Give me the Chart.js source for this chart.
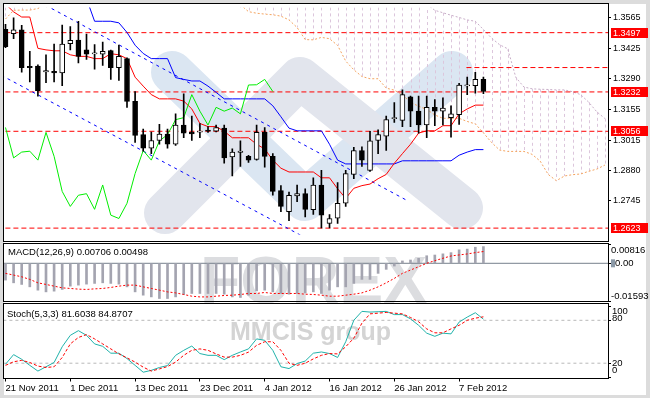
<!DOCTYPE html>
<html>
<head>
<meta charset="utf-8">
<script src="https://cdn.jsdelivr.net/npm/chart.js@4/dist/chart.umd.min.js"></script>
<style>
  html, body { margin: 0; padding: 0; }
  body { width: 650px; height: 398px; background: #dcdcdc; position: relative; overflow: hidden; }
  #sheet { position: absolute; left: 4px; top: 4px; width: 642px; height: 391px; background: #fff; }
  canvas { position: absolute; left: 0; }
</style>
</head>
<body>
<div id="sheet"></div>
<canvas id="price" width="650" height="242" style="top:0"></canvas>
<canvas id="macd" width="650" height="61" style="top:242px"></canvas>
<canvas id="stoch" width="650" height="96" style="top:302px"></canvas>
<script>
// EURUSD daily, 21 Nov 2011 - 10 Feb 2012 (one entry per bar)
const tickBars = [0, 8, 16, 24, 32, 40, 48, 56];
const tickLabels = ['21 Nov 2011', '1 Dec 2011', '13 Dec 2011', '23 Dec 2011', '4 Jan 2012', '16 Jan 2012', '26 Jan 2012', '7 Feb 2012'];

const open = [1.3512,1.3493,1.3510,1.3346,1.3348,1.3322,1.3324,1.3317,1.3448,1.3464,
              1.3420,1.3402,1.3401,1.3417,1.3341,1.3381,1.3190,1.3041,1.2981,1.3015,
              1.3044,1.2998,1.3084,1.3053,1.3052,1.3061,1.3056,1.3070,1.2941,1.2962,
              1.2944,1.2930,1.3051,1.2944,1.2791,1.2696,1.2767,1.2777,1.2706,1.2816,
              1.2644,1.2667,1.2734,1.2863,1.2970,1.2881,1.3015,1.3034,1.3112,1.3105,
              1.3210,1.3146,1.3084,1.3163,1.3146,1.3117,1.3130,1.3259,1.3260,1.3288];
const high = [1.3534,1.3563,1.3530,1.3413,1.3353,1.3398,1.3446,1.3531,1.3524,1.3548,
              1.3491,1.3444,1.3455,1.3419,1.3441,1.3384,1.3234,1.3066,1.3053,1.3087,
              1.3066,1.3134,1.3223,1.3124,1.3091,1.3077,1.3084,1.3084,1.2977,1.3013,
              1.2949,1.3084,1.3073,1.2956,1.2813,1.2784,1.2816,1.2799,1.2848,1.2881,
              1.2684,1.2827,1.2881,1.2984,1.2987,1.3056,1.3063,1.3124,1.3184,1.3241,
              1.3213,1.3213,1.3213,1.3198,1.3206,1.3170,1.3270,1.3298,1.3320,1.3298];
const low = [1.3430,1.3470,1.3320,1.3277,1.3213,1.3273,1.3277,1.3260,1.3420,1.3362,
             1.3377,1.3334,1.3351,1.3288,1.3284,1.3163,1.3006,1.2967,1.2956,1.2998,
             1.2981,1.2993,1.3027,1.3015,1.3027,1.3051,1.3053,1.2913,1.2856,1.2899,
             1.2917,1.2927,1.2896,1.2770,1.2696,1.2656,1.2741,1.2673,1.2684,1.2624,
             1.2624,1.2644,1.2720,1.2844,1.2899,1.2877,1.2956,1.2970,1.3096,1.3077,
             1.3077,1.3048,1.3027,1.3081,1.3084,1.3030,1.3087,1.3220,1.3227,1.3224];
const close = [1.3434,1.3510,1.3341,1.3341,1.3238,1.3327,1.3317,1.3446,1.3463,1.3391,
               1.3401,1.3407,1.3413,1.3341,1.3391,1.3189,1.3037,1.2981,1.3015,1.3044,
               1.2998,1.3084,1.3048,1.3044,1.3057,1.3056,1.3073,1.2937,1.2963,1.2967,
               1.2927,1.3051,1.2944,1.2787,1.2720,1.2770,1.2777,1.2707,1.2816,1.2681,
               1.2666,1.2734,1.2867,1.2970,1.2927,1.3013,1.3041,1.3108,1.3117,1.3220,
               1.3146,1.3084,1.3163,1.3146,1.3160,1.3134,1.3263,1.3264,1.3288,1.3234];

// Ichimoku (null = above the visible range)
const tenkan = [1.3625,1.3590,1.3567,1.3567,1.3427,1.3420,1.3416,1.3416,1.3398,1.3391,
                1.3391,1.3381,1.3381,1.3403,1.3398,1.3381,1.3298,1.3258,1.3220,1.3201,
                1.3201,1.3201,1.3191,1.3156,1.3091,1.3077,1.3077,1.3056,1.3027,1.3027,
                1.3027,1.2998,1.2977,1.2927,1.2891,1.2874,1.2874,1.2874,1.2874,1.2848,
                1.2848,1.2799,1.2756,1.2801,1.2813,1.2820,1.2844,1.2863,1.2913,1.2956,
                1.2998,1.3048,1.3058,1.3058,1.3081,1.3081,1.3134,1.3156,1.3173,1.3173];
const kijun = [null,null,null,null,null,null,null,null,null,null,
               1.3649,1.3548,1.3548,1.3548,1.3541,1.3498,1.3441,1.3404,1.3381,1.3381,
               1.3381,1.3296,1.3288,1.3281,1.3281,1.3258,1.3230,1.3201,1.3201,1.3201,
               1.3201,1.3201,1.3201,1.3170,1.3121,1.3070,1.3058,1.3058,1.3058,1.3058,
               1.2998,1.2927,1.2910,1.2910,1.2910,1.2910,1.2910,1.2910,1.2910,1.2924,
               1.2924,1.2924,1.2924,1.2924,1.2924,1.2924,1.2949,1.2963,1.2974,1.2974];
// senkou spans, already shifted 26 bars forward (index 0..74)
const spanA = [1.3558,1.3597,1.3598,1.3598,1.3605,1.3625,null,null,null,null,
               null,null,null,null,null,null,null,null,null,null,
               null,null,null,null,null,null,null,null,null,1.3622,
               1.3591,1.3584,1.3580,1.3577,1.3571,1.3554,1.3520,1.3466,1.3465,1.3476,
               1.3470,1.3440,1.3370,1.3331,1.3301,1.3291,1.3291,1.3249,1.3240,1.3219,
               1.3186,1.3168,1.3154,1.3129,1.3114,1.3114,1.3114,1.3100,1.3089,1.3049,
               1.3006,1.2972,1.2966,1.2966,1.2966,1.2953,1.2923,1.2863,1.2835,1.2856,
               1.2862,1.2865,1.2877,1.2887,1.2905];
const spanB = [null,null,null,null,null,null,null,null,null,null,
               null,null,null,null,null,null,null,null,null,null,
               null,null,null,null,null,null,null,null,null,null,
               null,null,null,null,null,null,null,null,null,null,
               null,null,null,null,null,null,null,null,null,null,
               null,null,1.3625,1.3597,1.3586,1.3575,1.3565,1.3554,1.3548,1.3511,
               1.3473,1.3443,1.3425,1.3297,1.3254,1.3246,1.3244,1.3243,1.3241,1.3241,
               1.3233,1.3220,1.3186,1.3143,1.3113];

const levels = [1.3497, 1.3232, 1.3056, 1.2623];
const shortLevel = 1.3341;
const shortLevelFrom = 56.9;
const upperTrend = [[5.7, 1.3605], [49.55, 1.2747]];
const lowerTrend = [[-0.5, 1.3306], [36.5, 1.2590]];
const priceTicks = [1.3565, 1.3425, 1.3290, 1.3155, 1.3015, 1.2880, 1.2745];

const macdMain = [-0.00710,-0.00825,-0.00893,-0.00995,-0.01135,-0.01207,-0.01177,-0.01105,-0.00965,-0.00922,
                  -0.00880,-0.00850,-0.00825,-0.00850,-0.00880,-0.00995,-0.01207,-0.01347,-0.01420,-0.01488,
                  -0.01488,-0.01420,-0.01318,-0.01275,-0.01275,-0.01275,-0.01275,-0.01305,-0.01420,-0.01445,
                  -0.01347,-0.01165,-0.01135,-0.01207,-0.01275,-0.01305,-0.01275,-0.01250,-0.01207,-0.01275,
                  -0.01135,-0.00995,-0.00995,-0.00850,-0.00680,-0.00680,-0.00425,-0.00255,-0.00115,0.00100,
                  0.00140,0.00210,0.00320,0.00350,0.00400,0.00450,0.00570,0.00600,0.00680,0.00706];
const macdSignal = [-0.00425,-0.00497,-0.00570,-0.00680,-0.00825,-0.00893,-0.00965,-0.01037,-0.01063,-0.01092,
                    -0.01105,-0.01080,-0.01063,-0.01020,-0.00965,-0.00922,-0.00922,-0.00995,-0.01063,-0.01135,
                    -0.01207,-0.01250,-0.01318,-0.01390,-0.01420,-0.01420,-0.01390,-0.01360,-0.01347,-0.01318,
                    -0.01275,-0.01275,-0.01233,-0.01275,-0.01275,-0.01275,-0.01275,-0.01305,-0.01318,-0.01347,
                    -0.01390,-0.01390,-0.01347,-0.01305,-0.01250,-0.01135,-0.00995,-0.00825,-0.00638,-0.00425,
                    -0.00285,-0.00145,0.00000,0.00111,0.00213,0.00310,0.00353,0.00395,0.00451,0.00498];
const macdTicks = [0.00816, 0, -0.01593];

const stochK = [18.5,32,25.5,17,9,15,21,43,59,65.5,
                59,47,43.6,34,34,26.5,17,7.4,10,14,
                16.7,31,38,44,33.5,31,31,25,31,35.7,
                40,54,52,38,15,12.5,19.5,23,34,35.7,
                33.5,28,50,80,92.5,91.5,92,92.5,88,88,
                82,73,62,57.6,62,61,77.5,84.5,90.6,81.6038];
const stochD = [17,22,24,21,16,14,15,28,47,56,
                60,54,47,40,33,27.5,21.5,14.5,9,12,
                15.3,21.5,31,38,40,38,33,28.5,28.5,31,
                35.5,45,50,50,38,20,17,20,26,31,
                33.5,33,43,55,76,89,90,91,90,89,
                84,78,68,62.5,62.5,68,73,80,83,84.8707];
const stochTicks = [100, 80, 20, 0];
const stochLevels = [80, 20];

const FONT = '"Liberation Sans", Arial, sans-serif';
Chart.defaults.font.family = FONT;
Chart.defaults.font.size = 9.5;
Chart.defaults.color = '#000';
Chart.defaults.animation = false;

const xMin = -0.185, xMax = 74.38;
const pts = (arr, from) => arr.map((v, i) => ({ x: i + (from || 0), y: v }));
const line = (data, color, extra) => Object.assign({
  type: 'line', data, borderColor: color, borderWidth: 1, pointRadius: 0, tension: 0
}, extra || {});

function xAxis(show) {
  return {
    type: 'linear', min: xMin, max: xMax, offset: false, display: show,
    grid: { drawOnChartArea: false, drawTicks: true, tickLength: 4, color: '#000' },
    border: { display: false },
    afterBuildTicks: s => { s.ticks = tickBars.map(v => ({ value: v })); },
    ticks: { align: 'start', maxRotation: 0, autoSkip: false, padding: 1,
             callback: v => tickLabels[tickBars.indexOf(v)] },
    afterFit: s => { if (show) s.height = 20.5; }
  };
}
function yAxis(min, max, ticks, showLabels) {
  return {
    position: 'right', min, max, beginAtZero: false,
    grid: { drawOnChartArea: false, drawTicks: true, tickLength: 3, color: '#000' },
    border: { display: false },
    afterBuildTicks: s => { s.ticks = ticks.map(v => ({ value: v })); },
    ticks: { display: showLabels, padding: 2, font: { size: 9 }, callback: v => v.toFixed(4) },
    afterFit: s => { s.width = 42; }
  };
}
function frame(ctx, area, top, bottom) {
  ctx.save();
  ctx.strokeStyle = '#000'; ctx.lineWidth = 1;
  ctx.strokeRect(area.left - 0.5, top, area.right - area.left + 1, bottom - top);
  ctx.restore();
}
const common = {
  responsive: false, devicePixelRatio: 1, events: [],
  plugins: { legend: { display: false }, tooltip: { enabled: false } }
};

// ---------- price pane ----------
const priceDecor = {
  id: 'priceDecor',
  beforeDatasetsDraw(chart) {
    const { ctx, chartArea: a, scales: { x, y } } = chart;
    ctx.save();
    ctx.beginPath(); ctx.rect(a.left, a.top, a.right - a.left, a.bottom - a.top); ctx.clip();
    // watermark logo
    ctx.lineCap = 'round'; ctx.lineJoin = 'round'; ctx.lineWidth = 42;
    ctx.strokeStyle = '#dbe6f2';
    ctx.beginPath(); ctx.moveTo(172, 72); ctx.lineTo(305, 200); ctx.lineTo(452, 72); ctx.stroke();
    ctx.strokeStyle = '#e2e5ed';
    ctx.beginPath(); ctx.moveTo(165, 213); ctx.lineTo(300, 78); ctx.lineTo(462, 208); ctx.stroke();
    // cloud hatching
    ctx.lineWidth = 1; ctx.lineCap = 'butt'; ctx.setLineDash([3, 3]);
    spanA.forEach((va, j) => {
      if (va == null) return;
      const vb = spanB[j];
      const px = Math.round(x.getPixelForValue(j)) + 0.5;
      const ya = y.getPixelForValue(va);
      const yb = vb == null ? a.top : y.getPixelForValue(vb);
      ctx.strokeStyle = (vb == null || vb > va) ? '#dcc6dc' : '#f4a460';
      ctx.beginPath(); ctx.moveTo(px, yb); ctx.lineTo(px, ya); ctx.stroke();
    });
    ctx.restore();
  },
  afterDraw(chart) {
    const { ctx, chartArea: a, scales: { y } } = chart;
    frame(ctx, a, 3.5, 241.5);
    ctx.save();
    ctx.font = '9px ' + FONT; ctx.textBaseline = 'middle';
    levels.forEach(v => {
      const py = Math.round(y.getPixelForValue(v));
      ctx.fillStyle = '#ff0000';
      ctx.fillRect(a.right + 3, py - 5, 37, 10);
      ctx.fillStyle = '#fff';
      ctx.fillText(v.toFixed(4), a.right + 5, py + 0.5);
    });
    ctx.restore();
  }
};

const bodyColors = open.map((o, i) => close[i] >= o ? '#fff' : '#000');
const dash = { borderDash: [5, 3] };
new Chart(document.getElementById('price'), {
  type: 'line',
  data: { datasets: [
    { type: 'bar', data: open.map((o, i) => ({ x: i, y: [o, close[i]] })),
      backgroundColor: bodyColors, borderColor: '#000', borderWidth: 1, borderSkipped: false,
      barThickness: 5, grouped: false, order: 0 },
    { type: 'bar', data: high.map((h, i) => ({ x: i, y: [low[i], h] })),
      backgroundColor: '#000', borderWidth: 0, barThickness: 1, grouped: false, order: 1 },
    line(pts(close.slice(26)), '#00ee00', { order: 2 }),
    line(pts(tenkan), '#ff0000', { order: 3 }),
    line(pts(kijun), '#0000ff', { order: 4 }),
    line(upperTrend.map(p => ({ x: p[0], y: p[1] })), '#0000ff', { borderDash: [3, 4], order: 5 }),
    line(lowerTrend.map(p => ({ x: p[0], y: p[1] })), '#0000ff', { borderDash: [3, 4], order: 5 }),
    ...levels.map(v => line([{ x: -1, y: v }, { x: 76, y: v }], '#ff0000', Object.assign({ order: 6 }, dash))),
    line([{ x: shortLevelFrom, y: shortLevel }, { x: 76, y: shortLevel }], '#ff0000', Object.assign({ order: 6 }, dash)),
    line(pts(spanA), '#f4a460', { borderDash: [2, 2], order: 7 }),
    line(pts(spanB), '#c8aec8', { borderDash: [2, 2], order: 8 })
  ] },
  options: Object.assign({}, common, {
    layout: { padding: { left: 4, top: 4, right: 0, bottom: 1 } },
    scales: { x: xAxis(false), y: yAxis(1.2594, 1.3610, priceTicks, true) }
  }),
  plugins: [priceDecor]
});

// ---------- MACD pane ----------
const macdDecor = {
  id: 'macdDecor',
  beforeDatasetsDraw(chart) {
    const { ctx } = chart;
    ctx.save();
    ctx.fillStyle = '#dcdde0';
    ctx.font = 'bold 66px ' + FONT;
    ctx.fillText('FOREX', 200, 61);
    ctx.restore();
  },
  afterDraw(chart) {
    const { ctx, chartArea: a, scales: { y } } = chart;
    frame(ctx, a, 1.5, 59.5);
    ctx.save();
    ctx.font = '9.5px ' + FONT; ctx.textBaseline = 'middle'; ctx.fillStyle = '#000';
    ctx.fillText('MACD(12,26,9) ' + macdMain[macdMain.length - 1].toFixed(5) + ' ' +
                 macdSignal[macdSignal.length - 1].toFixed(5), 8, 10.5);
    const offs = [6, 0, -5];
    macdTicks.forEach((v, k) => {
      const py = y.getPixelForValue(v) + offs[k];
      const txt = v === 0 ? '0.00' : v.toFixed(5);
      if (v === 0) {
        ctx.fillStyle = '#8c9aa8'; ctx.fillRect(a.right + 3, py - 4, 4, 8);
        ctx.fillStyle = '#000'; ctx.fillText(txt, a.right + 7, py);
      } else {
        ctx.fillText(txt, a.right + 3, py);
      }
    });
    ctx.restore();
  }
};
new Chart(document.getElementById('macd'), {
  type: 'line',
  data: { datasets: [
    line(pts(macdSignal), '#ff0000', { borderDash: [2, 2], order: 0 }),
    { type: 'bar', data: pts(macdMain), backgroundColor: '#a4a4b0', borderWidth: 0,
      barThickness: 2, grouped: false, order: 1 },
    line([{ x: -1, y: 0 }, { x: 76, y: 0 }], '#76808c', { order: 2 })
  ] },
  options: Object.assign({}, common, {
    layout: { padding: { left: 4, top: 2, right: 0, bottom: 2 } },
    scales: { x: xAxis(false), y: yAxis(-0.01593, 0.00816, macdTicks, false) }
  }),
  plugins: [macdDecor]
});

// ---------- Stochastic pane ----------
const stochDecor = {
  id: 'stochDecor',
  beforeDatasetsDraw(chart) {
    const { ctx } = chart;
    ctx.save();
    ctx.fillStyle = '#d4d4d4';
    ctx.font = 'bold 25px ' + FONT;
    ctx.fillText('MMCIS group', 230, 38);
    ctx.restore();
  },
  afterDraw(chart) {
    const { ctx, chartArea: a, scales: { y } } = chart;
    frame(ctx, a, 1.5, 76.5);
    ctx.save();
    ctx.font = '9.5px ' + FONT; ctx.textBaseline = 'middle'; ctx.fillStyle = '#000';
    ctx.fillText('Stoch(5,3,3) ' + stochK[stochK.length - 1].toFixed(4) + ' ' +
                 stochD[stochD.length - 1].toFixed(4), 7, 12);
    const offs = [5, -2, 0, -7];
    stochTicks.forEach((v, k) => ctx.fillText(String(v), a.right + 4, y.getPixelForValue(v) + offs[k]));
    ctx.restore();
  }
};
new Chart(document.getElementById('stoch'), {
  type: 'line',
  data: { datasets: [
    line(pts(stochK), '#20b2aa', { order: 1 }),
    line(pts(stochD), '#ff0000', { borderDash: [3, 2], order: 0 }),
    ...stochLevels.map(v => line([{ x: -1, y: v }, { x: 76, y: v }], '#b8b8b8', { borderDash: [3, 3], order: 2 }))
  ] },
  options: Object.assign({}, common, {
    layout: { padding: { left: 4, top: 4, right: 0, bottom: 0 } },
    scales: { x: xAxis(true), y: yAxis(0, 100, stochTicks, false) }
  }),
  plugins: [stochDecor]
});
</script>
</body>
</html>
